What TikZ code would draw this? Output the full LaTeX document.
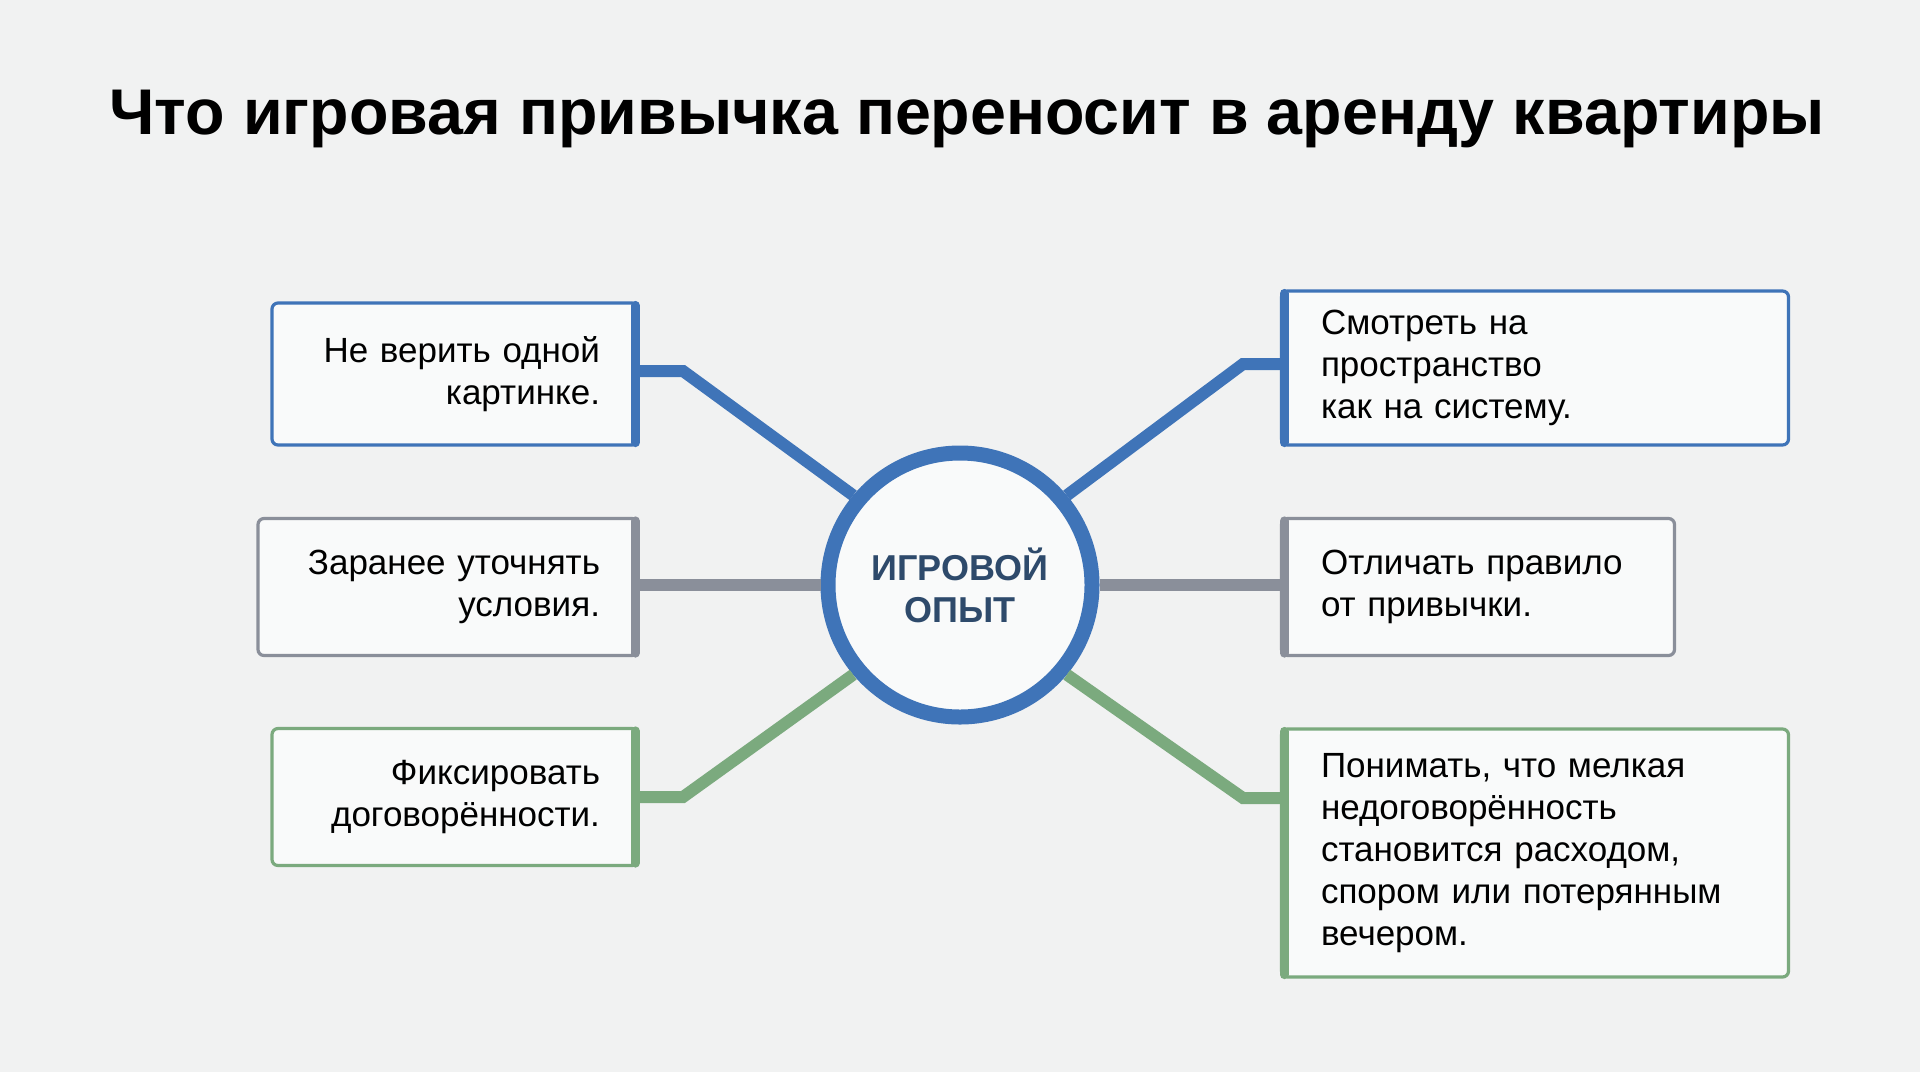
\documentclass[tikz,border=0pt]{standalone}
\usepackage{fontspec}
\setmainfont{Liberation Sans}
\usetikzlibrary{positioning}
\definecolor{bgc}{HTML}{F1F2F2}
\definecolor{blu}{HTML}{3F74B8}
\definecolor{gry}{HTML}{8A8F9A}
\definecolor{grn}{HTML}{7BAA7E}
\definecolor{hubtxt}{HTML}{2E4A6B}
\tikzset{
  box/.style={draw=#1, line width=1.6pt, rounded corners=3pt, fill=white!60!bgc,
    font=\fontsize{17.5}{21}\selectfont, inner sep=0pt},
  lbox/.style={box=#1, align=right},
  rbox/.style={box=#1, align=left},
  link/.style={draw=#1, line width=6pt},
  side/.style={draw=#1, line width=4.5pt, line cap=round},
}
\begin{document}
\begin{tikzpicture}[x=0.5pt,y=-0.5pt]
\fill[bgc] (0,0) rectangle (1920,1072);
\useasboundingbox (0,0) rectangle (1920,1072);

% title
\node (title) at (967,119) {\fontsize{32.3}{38}\selectfont\bfseries Что игровая привычка переносит в аренду квартиры};

% hub
\node[circle, draw=blu, line width=7.5pt, fill=white!60!bgc, minimum size=132pt, align=center,
  text=hubtxt, font=\fontsize{18}{21}\selectfont\bfseries] (hub) at (960,585) {ИГРОВОЙ\\ОПЫТ};

% left boxes
\node[lbox=blu, minimum width=183pt, minimum height=71pt, text width=145pt] (l1) at (455,374) {Не верить одной\\картинке.};
\node[lbox=gry, minimum width=190pt, minimum height=68.5pt, text width=152pt] (l2) at (448,587) {Заранее уточнять\\условия.};
\node[lbox=grn, minimum width=183pt, minimum height=68.5pt, text width=145pt] (l3) at (455,797) {Фиксировать\\договорённости.};

% right boxes
\node[rbox=blu, minimum width=253.5pt, minimum height=77pt, text width=214pt] (r1) at (1535,368) {Смотреть на\\пространство\\как на систему.};
\node[rbox=gry, minimum width=196.5pt, minimum height=68.5pt, text width=157pt] (r2) at (1478,587) {Отличать правило\\от привычки.};
\node[rbox=grn, minimum width=253.5pt, minimum height=124pt, text width=214pt] (r3) at (1535,853) {Понимать, что мелкая\\недоговорённость\\становится расходом,\\спором или потерянным\\вечером.};

% thick sides
\draw[side=blu] ([xshift=-2.2pt,yshift=-2pt]l1.north east) -- ([xshift=-2.2pt,yshift=2pt]l1.south east);
\draw[side=gry] ([xshift=-2.2pt,yshift=-2pt]l2.north east) -- ([xshift=-2.2pt,yshift=2pt]l2.south east);
\draw[side=grn] ([xshift=-2.2pt,yshift=-2pt]l3.north east) -- ([xshift=-2.2pt,yshift=2pt]l3.south east);
\draw[side=blu] ([xshift=2.2pt,yshift=-2pt]r1.north west) -- ([xshift=2.2pt,yshift=2pt]r1.south west);
\draw[side=gry] ([xshift=2.2pt,yshift=-2pt]r2.north west) -- ([xshift=2.2pt,yshift=2pt]r2.south west);
\draw[side=grn] ([xshift=2.2pt,yshift=-2pt]r3.north west) -- ([xshift=2.2pt,yshift=2pt]r3.south west);

% links
\draw[link=blu] (l1.east |- 0,371) -- (683,371) -- (hub.140);
\draw[link=gry] (l2.east |- hub.west) -- (hub.west);
\draw[link=grn] (l3.east |- 0,797) -- (683,797) -- (hub.220);
\draw[link=blu] (hub.40) -- (1243,364) -- (r1.west |- 0,364);
\draw[link=gry] (hub.east) -- (r2.west |- hub.east);
\draw[link=grn] (hub.320) -- (1243,798) -- (r3.west |- 0,798);
\end{tikzpicture}
\end{document}
